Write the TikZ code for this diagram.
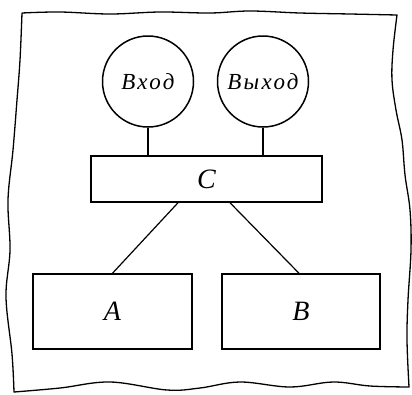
\documentclass[tikz,border=0pt]{standalone}
\usepackage{fontspec}
\setmainfont{Liberation Serif}
\newfontfamily\labelfont[LetterSpace=10]{Liberation Serif}
\begin{document}
\begin{tikzpicture}[x=1pt,y=-1pt,
  thick line/.style={line width=1.5pt},
  border/.style={line width=1.3pt, line join=round},
  bubble/.style={circle, draw, thick line, minimum size=91pt, inner sep=0pt, font=\labelfont\fontsize{23}{25}\selectfont\itshape},
  blockbox/.style={rectangle, draw, thick line, inner sep=0pt, font=\fontsize{28}{30}\selectfont\itshape},
  link/.style={line width=1.2pt}]
\useasboundingbox (0,0) rectangle (412,394);
% wavy frame
\draw[border] plot[smooth, tension=0.6] coordinates {
  (22,13) (60,12) (110,14) (160,12) (210,13) (250,11) (300,13) (350,14) (397,15)}
  -- plot[smooth, tension=0.6] coordinates {
  (397,15) (393,50) (392,80) (396,110) (402,140) (405,175) (410,210) (411,250) (408,300) (407,340) (409,387)}
  -- plot[smooth, tension=0.6] coordinates {
  (409,387) (370,386) (333,382) (290,387) (240,382) (200,388) (167,390) (110,382) (60,388) (14,392)}
  -- plot[smooth, tension=0.6] coordinates {
  (14,392) (12,354) (6,297) (10,250) (8,200) (13,150) (17,100) (20,60) (22,13)};
% nodes
\node[bubble] (in) at (148,81.5) {Вход};
\node[bubble] (out) at (263,81.5) {Выход};
\node[blockbox, minimum width=231pt, minimum height=46pt] (C) at (206.5,179) {C};
\node[blockbox, minimum width=159pt, minimum height=75pt] (A) at (112.5,311.5) {A};
\node[blockbox, minimum width=158pt, minimum height=75pt] (B) at (301,311.5) {B};
% connectors
\draw[link] (in.south) -- (in.south |- C.north);
\draw[link] (out.south) -- (out.south |- C.north);
\draw[link] ([xshift=-28.5pt]C.south) -- (A.north);
\draw[link] ([xshift=23.5pt]C.south) -- ([xshift=-2pt]B.north);
\end{tikzpicture}
\end{document}
